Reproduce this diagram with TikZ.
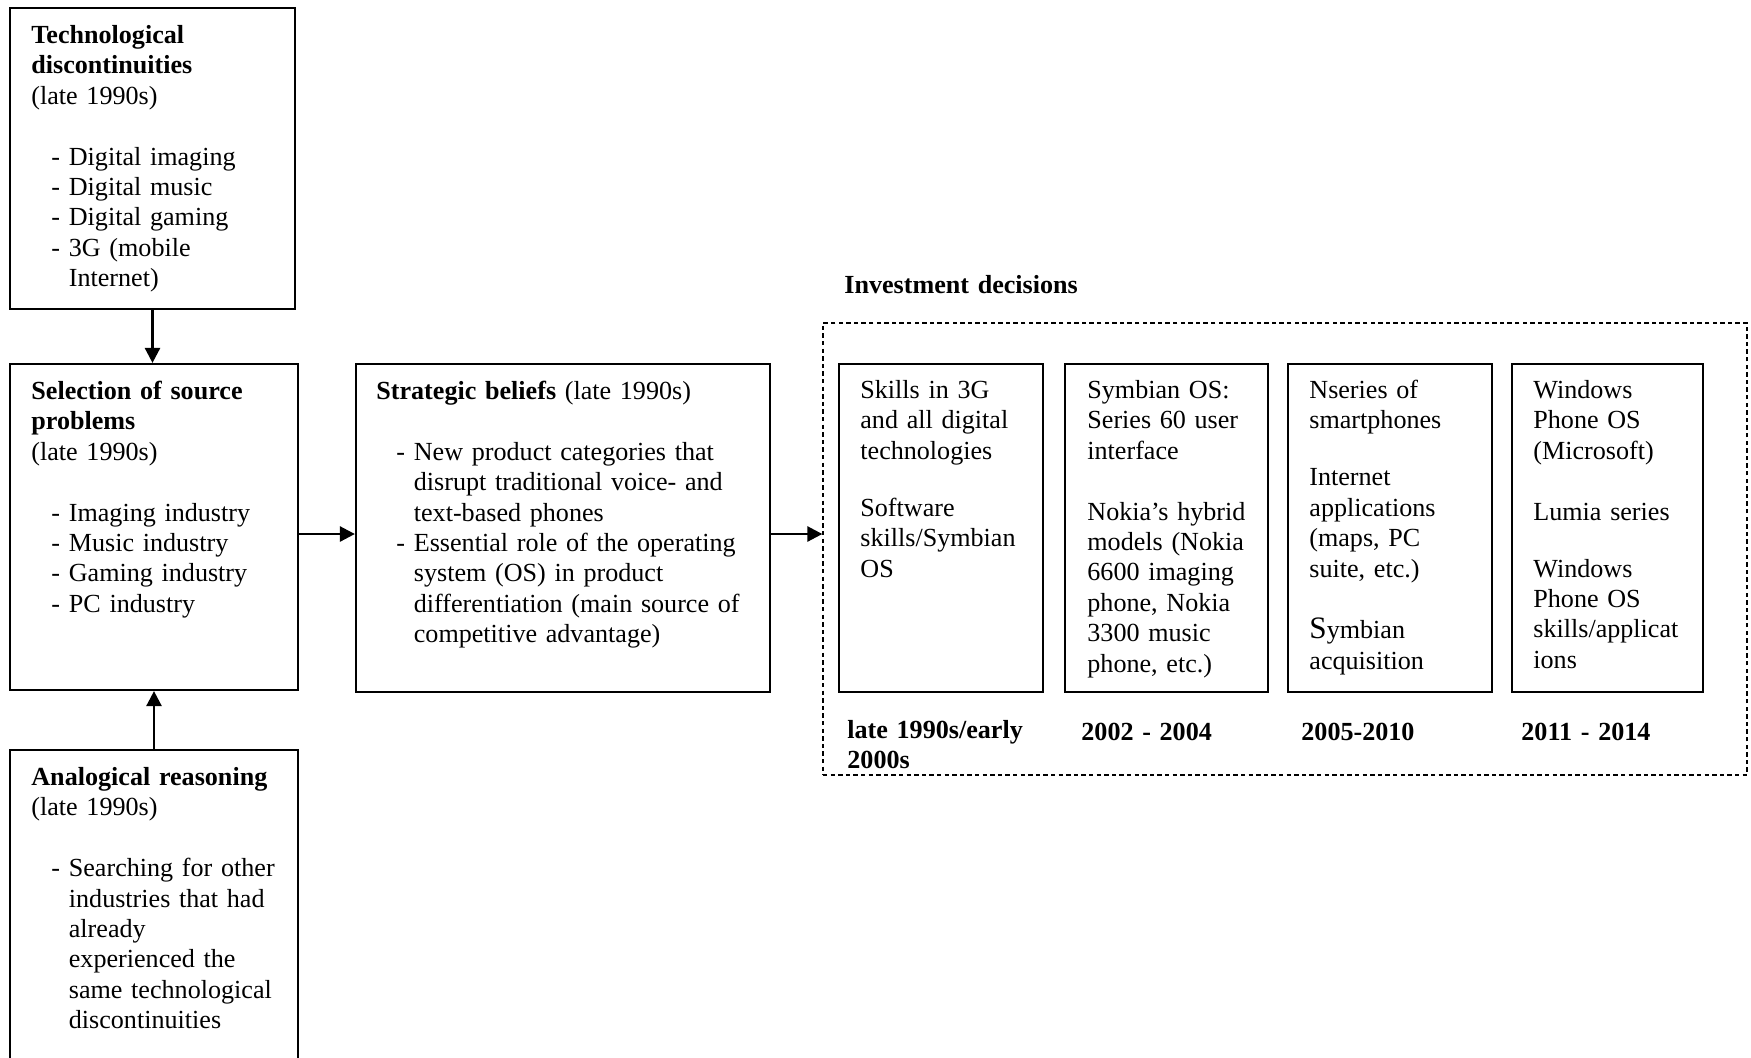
\documentclass[tikz,border=0pt]{standalone}
\usepackage{fontspec}
\setmainfont{Liberation Serif}
\usetikzlibrary{fit,arrows.meta}

\newcommand{\dashitem}[1]{\hspace*{10pt}\makebox[8.75pt][l]{-}#1}
\newcommand{\contline}[1]{\hspace*{18.75pt}#1}
\newcommand{\firststrut}{\noindent\rule{0pt}{10pt}}

\tikzset{
  boxln/.style={draw, line width=1.1pt, inner sep=0pt},
  dashbox/.style={draw, line width=0.65pt, dash pattern=on 2.2pt off 1.6pt, inner sep=0pt},
  txt/.style={anchor=north west, inner sep=0pt, text width=220pt, align=left,
              font=\fontsize{13.05pt}{15.2pt}\selectfont},
  lbl/.style={txt, font=\fontsize{13.05pt}{15.2pt}\selectfont\bfseries},
  arr/.style={line width=1.3pt, -{Triangle[length=7.5pt,width=7.5pt]}},
}

\begin{document}
\begin{tikzpicture}[x=0.5pt,y=-0.5pt]
\fill[white] (0,0) rectangle (1751,1057);
\useasboundingbox (0,0) rectangle (1751,1057);

% left column boxes
\node[boxln, fit={(10,8) (295,309)}] (b1) {};
\node[boxln, fit={(10,364) (298,690)}] (b2) {};
\node[boxln, fit={(356,364) (770,692)}] (b3) {};
\node[boxln, fit={(10,750) (298,1090)}] (b4) {};

% investment decisions
\node[dashbox, fit={(823,323) (1747,775)}] (inv) {};
\node[boxln, fit={(839,364) (1043,692)}] (ba) {};
\node[boxln, fit={(1065,364) (1268,692)}] (bb) {};
\node[boxln, fit={(1288,364) (1492,692)}] (bc) {};
\node[boxln, fit={(1512,364) (1703,692)}] (bd) {};

% texts
\node[txt] (t1) at (31,23) {\firststrut\textbf{Technological}\\
\textbf{discontinuities}\\
(late 1990s)\\[15.2pt]
\dashitem{Digital imaging}\\
\dashitem{Digital music}\\
\dashitem{Digital gaming}\\
\dashitem{3G (mobile}\\
\contline{Internet)}};

\node[txt] (t2) at (31,379) {\firststrut\textbf{Selection of source}\\
\textbf{problems}\\
(late 1990s)\\[15.2pt]
\dashitem{Imaging industry}\\
\dashitem{Music industry}\\
\dashitem{Gaming industry}\\
\dashitem{PC industry}};

\node[txt] (t3) at (376,379) {\firststrut\textbf{Strategic beliefs} (late 1990s)\\[15.2pt]
\dashitem{New product categories that}\\
\contline{disrupt traditional voice- and}\\
\contline{text-based phones}\\
\dashitem{Essential role of the operating}\\
\contline{system (OS) in product}\\
\contline{differentiation (main source of}\\
\contline{competitive advantage)}};

\node[txt] (t4) at (31,765) {\firststrut\textbf{Analogical reasoning}\\
(late 1990s)\\[15.2pt]
\dashitem{Searching for other}\\
\contline{industries that had}\\
\contline{already}\\
\contline{experienced the}\\
\contline{same technological}\\
\contline{discontinuities}};

\node[lbl] (invt) at (844,273) {\firststrut Investment decisions};

\node[txt] (ta) at (860,378) {\firststrut Skills in 3G\\
and all digital\\
technologies\\[13.3pt]
Software\\
skills/Symbian\\
OS};

\node[txt] (tb) at (1087,378) {\firststrut Symbian OS:\\
Series 60 user\\
interface\\[15.2pt]
Nokia’s hybrid\\
models (Nokia\\
6600 imaging\\
phone, Nokia\\
3300 music\\
phone, etc.)};

\node[txt] (tc) at (1309,378) {\firststrut Nseries of\\
smartphones\\[13.3pt]
Internet\\
applications\\
(maps, PC\\
suite, etc.)\\[15.6pt]
{\fontsize{15.6pt}{15.2pt}\selectfont S}ymbian\\
acquisition};

\node[txt] (td) at (1533,378) {\firststrut Windows\\
Phone OS\\
(Microsoft)\\[15.2pt]
Lumia series\\[13.3pt]
Windows\\
Phone OS\\
skills/applicat\\
ions};

% period labels
\node[lbl] (ya) at (847,718) {\firststrut late 1990s/early\\2000s};
\node[lbl] (yb) at (1081,720) {\firststrut 2002 - 2004};
\node[lbl] (yc) at (1301,720) {\firststrut 2005-2010};
\node[lbl] (yd) at (1521,720) {\firststrut 2011 - 2014};

% connectors
\coordinate (ay) at (0,534);
\draw[arr] (b1.south) -- (b1.south |- b2.north);
\draw[arr] (b4.north) -- (b4.north |- b2.south);
\draw[arr] (b2.east |- ay) -- (b3.west |- ay);
\draw[arr] (b3.east |- ay) -- (inv.west |- ay);
\end{tikzpicture}
\end{document}
